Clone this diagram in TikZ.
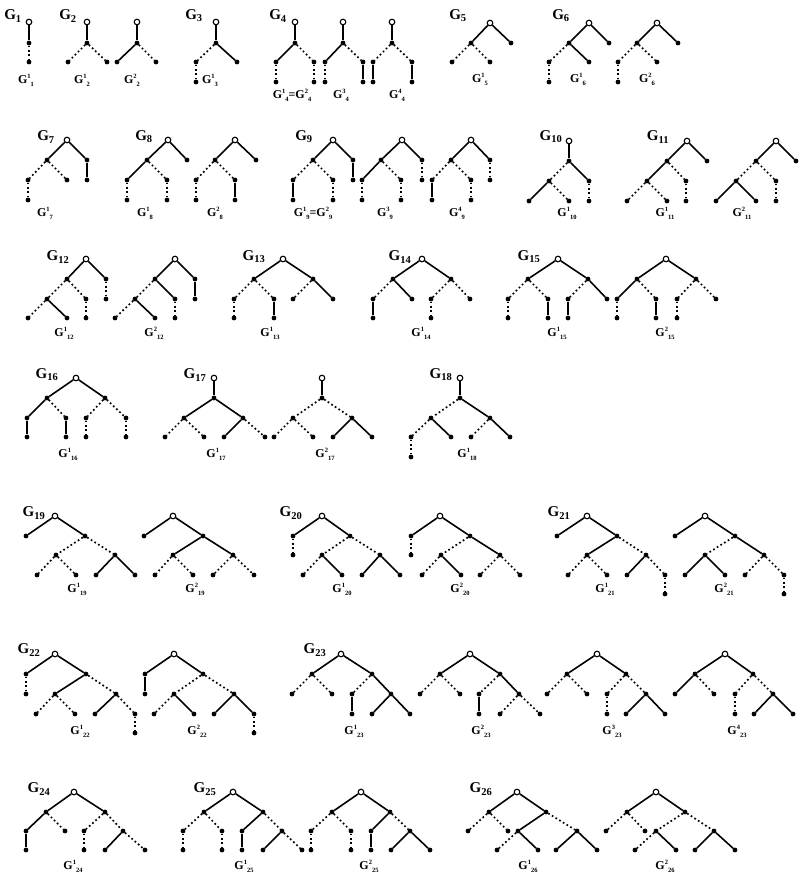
\documentclass[tikz,border=0pt]{standalone}
\usepackage{fontspec}
\setmainfont{Liberation Serif}
\tikzset{
 dotn/.style={circle,fill=black,inner sep=0pt,minimum size=4.8pt},
 rootn/.style={circle,draw=black,fill=white,line width=1.1pt,inner sep=0pt,minimum size=5.6pt},
 soledge/.style={line width=1.6pt},
 dotedge/.style={line width=1.7pt,dash pattern=on 1.7pt off 2.6pt},
 glab/.style={font=\fontsize{15}{15}\selectfont\bfseries,inner sep=0pt},
 plab/.style={font=\fontsize{12}{12}\selectfont\bfseries,inner sep=0pt},
}
\newcommand{\mkD}[3]{\node[dotn] (#1) at (#2,#3) {};}
\newcommand{\mkR}[3]{\node[rootn] (#1) at (#2,#3) {};}
\newcommand{\eS}[2]{\draw[soledge] (#1) -- (#2);}
\newcommand{\eD}[2]{\draw[dotedge] (#1) -- (#2);}
\newcommand{\Gm}[1]{G\textsubscript{#1}}
\newcommand{\smallnum}[1]{{\fontsize{6.5}{6.5}\selectfont\bfseries #1}}
\newcommand{\Gp}[2]{G\raisebox{5pt}{\smallnum{#1}}\raisebox{-3pt}{\smallnum{#2}}}
\begin{document}
\begin{tikzpicture}[x=1pt,y=-1pt]
\fill[white] (0,0) rectangle (800,878);
\useasboundingbox (0,0) rectangle (800,878);
% ================= Row 1
% G1
\node[glab] (L1) at (13,16) {\Gm{1}};
\mkR{n1r}{29}{22} \mkD{n1b}{29}{43} \mkD{n1c}{29}{62}
\eS{n1r}{n1b} \eD{n1b}{n1c}
\node[plab] (P1) at (26,80) {\Gp{1}{1}};
% G2
\node[glab] (L2) at (68,16) {\Gm{2}};
\mkR{n2ar}{87}{22} \mkD{n2ab}{87}{43} \mkD{n2ac}{68}{62} \mkD{n2ad}{107}{62}
\eS{n2ar}{n2ab} \eD{n2ab}{n2ac} \eD{n2ab}{n2ad}
\node[plab] (P2a) at (82,80) {\Gp{1}{2}};
\mkR{n2br}{137}{22} \mkD{n2bb}{137}{43} \mkD{n2bc}{117}{62} \mkD{n2bd}{156}{62}
\eS{n2br}{n2bb} \eS{n2bb}{n2bc} \eD{n2bb}{n2bd}
\node[plab] (P2b) at (132,80) {\Gp{2}{2}};
% G3
\node[glab] (L3) at (194,16) {\Gm{3}};
\mkR{n3r}{216}{22} \mkD{n3b}{216}{43} \mkD{n3c}{196}{62} \mkD{n3d}{237}{62} \mkD{n3e}{196}{82}
\eS{n3r}{n3b} \eD{n3b}{n3c} \eS{n3b}{n3d} \eD{n3c}{n3e}
\node[plab] (P3) at (210,80) {\Gp{1}{3}};
% G4
\node[glab] (L4) at (278,16) {\Gm{4}};
\mkR{n4ar}{295}{22} \mkD{n4ab}{295}{43} \mkD{n4ac}{276}{62} \mkD{n4ad}{314}{62} \mkD{n4ae}{276}{82} \mkD{n4af}{314}{82}
\eS{n4ar}{n4ab} \eS{n4ab}{n4ac} \eD{n4ab}{n4ad} \eD{n4ac}{n4ae} \eD{n4ad}{n4af}
\mkR{n4br}{343}{22} \mkD{n4bb}{343}{43} \mkD{n4bc}{325}{62} \mkD{n4bd}{363}{62} \mkD{n4be}{325}{82} \mkD{n4bf}{363}{82}
\eS{n4br}{n4bb} \eS{n4bb}{n4bc} \eD{n4bb}{n4bd} \eD{n4bc}{n4be} \eS{n4bd}{n4bf}
\mkR{n4cr}{392}{22} \mkD{n4cb}{392}{43} \mkD{n4cc}{373}{62} \mkD{n4cd}{412}{62} \mkD{n4ce}{373}{82} \mkD{n4cf}{412}{82}
\eS{n4cr}{n4cb} \eD{n4cb}{n4cc} \eD{n4cb}{n4cd} \eS{n4cc}{n4ce} \eS{n4cd}{n4cf}
\node[plab] (P4a) at (292,95) {\Gp{1}{4}=\Gp{2}{4}};
\node[plab] (P4b) at (341,95) {\Gp{3}{4}};
\node[plab] (P4c) at (397,95) {\Gp{4}{4}};
% G5
\node[glab] (L5) at (458,16) {\Gm{5}};
\mkR{n5r}{490}{23} \mkD{n5b}{471}{43} \mkD{n5c}{511}{43} \mkD{n5d}{452}{62} \mkD{n5e}{490}{62}
\eS{n5r}{n5b} \eS{n5r}{n5c} \eD{n5b}{n5d} \eD{n5b}{n5e}
\node[plab] (P5) at (480,79) {\Gp{1}{5}};
% G6
\node[glab] (L6) at (561,16) {\Gm{6}};
\mkR{n6ar}{589}{23} \mkD{n6ab}{569}{43} \mkD{n6ac}{609}{43} \mkD{n6ad}{549}{62} \mkD{n6ae}{589}{62} \mkD{n6af}{549}{82}
\eS{n6ar}{n6ab} \eS{n6ar}{n6ac} \eD{n6ab}{n6ad} \eS{n6ab}{n6ae} \eD{n6ad}{n6af}
\node[plab] (P6a) at (578,79) {\Gp{1}{6}};
\mkR{n6br}{657}{23} \mkD{n6bb}{637}{43} \mkD{n6bc}{678}{43} \mkD{n6bd}{618}{62} \mkD{n6be}{657}{62} \mkD{n6bf}{618}{82}
\eS{n6br}{n6bb} \eS{n6br}{n6bc} \eD{n6bb}{n6bd} \eD{n6bb}{n6be} \eD{n6bd}{n6bf}
\node[plab] (P6b) at (647,79) {\Gp{2}{6}};
% ================= Row 2
% G7
\node[glab] (L7) at (46,137) {\Gm{7}};
\mkR{n7r}{67}{140} \mkD{n7b}{47}{160} \mkD{n7c}{87}{160} \mkD{n7d}{28}{180} \mkD{n7e}{67}{180} \mkD{n7f}{87}{180} \mkD{n7g}{28}{200}
\eS{n7r}{n7b} \eS{n7r}{n7c} \eD{n7b}{n7d} \eD{n7b}{n7e} \eS{n7c}{n7f} \eD{n7d}{n7g}
\node[plab] (P7) at (45,213) {\Gp{1}{7}};
% G8
\node[glab] (L8) at (144,137) {\Gm{8}};
\mkR{n8ar}{168}{140} \mkD{n8ab}{147}{160} \mkD{n8ac}{187}{160} \mkD{n8ad}{127}{180} \mkD{n8ae}{167}{180} \mkD{n8af}{127}{200} \mkD{n8ag}{167}{200}
\eS{n8ar}{n8ab} \eS{n8ar}{n8ac} \eS{n8ab}{n8ad} \eD{n8ab}{n8ae} \eD{n8ad}{n8af} \eD{n8ae}{n8ag}
\node[plab] (P8a) at (145,213) {\Gp{1}{8}};
\mkR{n8br}{235}{140} \mkD{n8bb}{215}{160} \mkD{n8bc}{256}{160} \mkD{n8bd}{196}{180} \mkD{n8be}{235}{180} \mkD{n8bf}{196}{200} \mkD{n8bg}{235}{200}
\eS{n8br}{n8bb} \eS{n8br}{n8bc} \eD{n8bb}{n8bd} \eD{n8bb}{n8be} \eD{n8bd}{n8bf} \eS{n8be}{n8bg}
\node[plab] (P8b) at (215,213) {\Gp{2}{8}};
% G9
\node[glab] (L9) at (304,137) {\Gm{9}};
\mkR{n9ar}{333}{140} \mkD{n9ab}{313}{160} \mkD{n9ac}{353}{160} \mkD{n9ad}{293}{180} \mkD{n9ae}{333}{180} \mkD{n9af}{353}{180} \mkD{n9ag}{293}{200} \mkD{n9ah}{333}{200}
\eS{n9ar}{n9ab} \eS{n9ar}{n9ac} \eD{n9ab}{n9ad} \eD{n9ab}{n9ae} \eS{n9ac}{n9af} \eS{n9ad}{n9ag} \eD{n9ae}{n9ah}
\node[plab] (P9a) at (313,213) {\Gp{1}{9}=\Gp{2}{9}};
\mkR{n9br}{402}{140} \mkD{n9bb}{381}{160} \mkD{n9bc}{422}{160} \mkD{n9bd}{362}{180} \mkD{n9be}{401}{180} \mkD{n9bf}{422}{180} \mkD{n9bg}{362}{200} \mkD{n9bh}{401}{200}
\eS{n9br}{n9bb} \eS{n9br}{n9bc} \eS{n9bb}{n9bd} \eD{n9bb}{n9be} \eD{n9bc}{n9bf} \eD{n9bd}{n9bg} \eD{n9be}{n9bh}
\node[plab] (P9b) at (385,213) {\Gp{3}{9}};
\mkR{n9cr}{471}{140} \mkD{n9cb}{451}{160} \mkD{n9cc}{490}{160} \mkD{n9cd}{432}{180} \mkD{n9ce}{471}{180} \mkD{n9cf}{490}{180} \mkD{n9cg}{432}{200} \mkD{n9ch}{471}{200}
\eS{n9cr}{n9cb} \eS{n9cr}{n9cc} \eD{n9cb}{n9cd} \eD{n9cb}{n9ce} \eD{n9cc}{n9cf} \eS{n9cd}{n9cg} \eD{n9ce}{n9ch}
\node[plab] (P9c) at (457,213) {\Gp{4}{9}};
% G10
\node[glab] (L10) at (551,137) {\Gm{10}};
\mkR{n10r}{569}{141} \mkD{n10b}{569}{161} \mkD{n10c}{549}{181} \mkD{n10d}{589}{181} \mkD{n10e}{529}{201} \mkD{n10f}{569}{201} \mkD{n10g}{589}{201}
\eS{n10r}{n10b} \eD{n10b}{n10c} \eS{n10b}{n10d} \eS{n10c}{n10e} \eD{n10c}{n10f} \eD{n10d}{n10g}
\node[plab] (P10) at (567,213) {\Gp{1}{10}};
% G11
\node[glab] (L11) at (658,137) {\Gm{11}};
\mkR{n11ar}{687}{141} \mkD{n11ab}{667}{161} \mkD{n11ac}{707}{161} \mkD{n11ad}{647}{181} \mkD{n11ae}{686}{181} \mkD{n11af}{627}{201} \mkD{n11ag}{667}{201} \mkD{n11ah}{686}{201}
\eS{n11ar}{n11ab} \eS{n11ar}{n11ac} \eS{n11ab}{n11ad} \eD{n11ab}{n11ae} \eD{n11ad}{n11af} \eD{n11ad}{n11ag} \eD{n11ae}{n11ah}
\node[plab] (P11a) at (665,213) {\Gp{1}{11}};
\mkR{n11br}{776}{141} \mkD{n11bb}{756}{161} \mkD{n11bc}{796}{161} \mkD{n11bd}{736}{181} \mkD{n11be}{776}{181} \mkD{n11bf}{716}{201} \mkD{n11bg}{756}{201} \mkD{n11bh}{776}{201}
\eS{n11br}{n11bb} \eS{n11br}{n11bc} \eD{n11bb}{n11bd} \eD{n11bb}{n11be} \eS{n11bd}{n11bf} \eS{n11bd}{n11bg} \eD{n11be}{n11bh}
\node[plab] (P11b) at (742,213) {\Gp{2}{11}};
% ================= Row 3
% G12
\node[glab] (L12) at (58,257) {\Gm{12}};
\mkR{n12ar}{86}{259} \mkD{n12ab}{67}{279} \mkD{n12ac}{106}{279} \mkD{n12ad}{47}{299} \mkD{n12ae}{86}{299} \mkD{n12af}{106}{299} \mkD{n12ag}{28}{318} \mkD{n12ah}{67}{318} \mkD{n12ai}{86}{318}
\eS{n12ar}{n12ab} \eS{n12ar}{n12ac} \eD{n12ab}{n12ad} \eD{n12ab}{n12ae} \eD{n12ac}{n12af} \eD{n12ad}{n12ag} \eS{n12ad}{n12ah} \eD{n12ae}{n12ai}
\node[plab] (P12a) at (64,333) {\Gp{1}{12}};
\mkR{n12br}{175}{259} \mkD{n12bb}{155}{279} \mkD{n12bc}{195}{279} \mkD{n12bd}{135}{299} \mkD{n12be}{175}{299} \mkD{n12bf}{195}{299} \mkD{n12bg}{115}{318} \mkD{n12bh}{155}{318} \mkD{n12bi}{175}{318}
\eS{n12br}{n12bb} \eS{n12br}{n12bc} \eD{n12bb}{n12bd} \eS{n12bb}{n12be} \eS{n12bc}{n12bf} \eD{n12bd}{n12bg} \eS{n12bd}{n12bh} \eD{n12be}{n12bi}
\node[plab] (P12b) at (154,333) {\Gp{2}{12}};
% G13
\node[glab] (L13) at (254,257) {\Gm{13}};
\mkR{n13r}{283}{259} \mkD{n13b}{254}{279} \mkD{n13c}{313}{279} \mkD{n13d}{234}{299} \mkD{n13e}{274}{299} \mkD{n13f}{293}{299} \mkD{n13g}{333}{299} \mkD{n13h}{234}{318} \mkD{n13i}{274}{318}
\eS{n13r}{n13b} \eS{n13r}{n13c} \eD{n13b}{n13d} \eD{n13b}{n13e} \eD{n13c}{n13f} \eS{n13c}{n13g} \eD{n13d}{n13h} \eS{n13e}{n13i}
\node[plab] (P13) at (270,333) {\Gp{1}{13}};
% G14
\node[glab] (L14) at (400,257) {\Gm{14}};
\mkR{n14r}{422}{259} \mkD{n14b}{393}{279} \mkD{n14c}{451}{279} \mkD{n14d}{373}{299} \mkD{n14e}{412}{299} \mkD{n14f}{431}{299} \mkD{n14g}{470}{299} \mkD{n14h}{373}{318} \mkD{n14i}{431}{318}
\eS{n14r}{n14b} \eS{n14r}{n14c} \eD{n14b}{n14d} \eS{n14b}{n14e} \eD{n14c}{n14f} \eD{n14c}{n14g} \eS{n14d}{n14h} \eD{n14f}{n14i}
\node[plab] (P14) at (421,333) {\Gp{1}{14}};
% G15
\node[glab] (L15) at (529,257) {\Gm{15}};
\mkR{n15ar}{558}{259} \mkD{n15ab}{528}{279} \mkD{n15ac}{588}{279} \mkD{n15ad}{508}{299} \mkD{n15ae}{548}{299} \mkD{n15af}{568}{299} \mkD{n15ag}{607}{299} \mkD{n15ah}{508}{318} \mkD{n15ai}{548}{318} \mkD{n15aj}{568}{318}
\eS{n15ar}{n15ab} \eS{n15ar}{n15ac} \eD{n15ab}{n15ad} \eD{n15ab}{n15ae} \eD{n15ac}{n15af} \eS{n15ac}{n15ag} \eD{n15ad}{n15ah} \eS{n15ae}{n15ai} \eS{n15af}{n15aj}
\node[plab] (P15a) at (557,333) {\Gp{1}{15}};
\mkR{n15br}{666}{259} \mkD{n15bb}{637}{279} \mkD{n15bc}{696}{279} \mkD{n15bd}{617}{299} \mkD{n15be}{656}{299} \mkD{n15bf}{677}{299} \mkD{n15bg}{716}{299} \mkD{n15bh}{617}{318} \mkD{n15bi}{656}{318} \mkD{n15bj}{677}{318}
\eS{n15br}{n15bb} \eS{n15br}{n15bc} \eS{n15bb}{n15bd} \eD{n15bb}{n15be} \eD{n15bc}{n15bf} \eD{n15bc}{n15bg} \eD{n15bd}{n15bh} \eS{n15be}{n15bi} \eD{n15bf}{n15bj}
\node[plab] (P15b) at (665,333) {\Gp{2}{15}};
% ================= Row 4
% G16
\node[glab] (L16) at (47,375) {\Gm{16}};
\mkR{n16r}{76}{378} \mkD{n16b}{47}{398} \mkD{n16c}{105}{398} \mkD{n16d}{27}{418} \mkD{n16e}{66}{418} \mkD{n16f}{86}{418} \mkD{n16g}{126}{418} \mkD{n16h}{27}{437} \mkD{n16i}{66}{437} \mkD{n16j}{86}{437} \mkD{n16k}{126}{437}
\eS{n16r}{n16b} \eS{n16r}{n16c} \eS{n16b}{n16d} \eD{n16b}{n16e} \eD{n16c}{n16f} \eD{n16c}{n16g} \eS{n16d}{n16h} \eS{n16e}{n16i} \eD{n16f}{n16j} \eD{n16g}{n16k}
\node[plab] (P16) at (68,454) {\Gp{1}{16}};
% G17
\node[glab] (L17) at (195,375) {\Gm{17}};
\mkR{n17ar}{214}{378} \mkD{n17ab}{214}{398} \mkD{n17ac}{184}{418} \mkD{n17ad}{243}{418} \mkD{n17ae}{165}{437} \mkD{n17af}{204}{437} \mkD{n17ag}{224}{437} \mkD{n17ah}{265}{437}
\eS{n17ar}{n17ab} \eS{n17ab}{n17ac} \eS{n17ab}{n17ad} \eD{n17ac}{n17ae} \eD{n17ac}{n17af} \eS{n17ad}{n17ag} \eD{n17ad}{n17ah}
\node[plab] (P17a) at (216,454) {\Gp{1}{17}};
\mkR{n17br}{322}{378} \mkD{n17bb}{322}{398} \mkD{n17bc}{293}{418} \mkD{n17bd}{352}{418} \mkD{n17be}{274}{437} \mkD{n17bf}{313}{437} \mkD{n17bg}{333}{437} \mkD{n17bh}{372}{437}
\eS{n17br}{n17bb} \eD{n17bb}{n17bc} \eD{n17bb}{n17bd} \eD{n17bc}{n17be} \eD{n17bc}{n17bf} \eS{n17bd}{n17bg} \eS{n17bd}{n17bh}
\node[plab] (P17b) at (325,454) {\Gp{2}{17}};
% G18
\node[glab] (L18) at (441,375) {\Gm{18}};
\mkR{n18r}{460}{378} \mkD{n18b}{460}{398} \mkD{n18c}{431}{418} \mkD{n18d}{490}{418} \mkD{n18e}{411}{437} \mkD{n18f}{451}{437} \mkD{n18g}{471}{437} \mkD{n18h}{510}{437} \mkD{n18i}{411}{457}
\eS{n18r}{n18b} \eD{n18b}{n18c} \eS{n18b}{n18d} \eD{n18c}{n18e} \eS{n18c}{n18f} \eD{n18d}{n18g} \eS{n18d}{n18h} \eD{n18e}{n18i}
\node[plab] (P18) at (467,454) {\Gp{1}{18}};
% ================= Row 5
% G19
\node[glab] (L19) at (34,513) {\Gm{19}};
\mkR{n19ar}{55}{516} \mkD{n19ab}{26}{536} \mkD{n19ac}{85}{536} \mkD{n19ad}{56}{555} \mkD{n19ae}{115}{555} \mkD{n19af}{37}{575} \mkD{n19ag}{76}{575} \mkD{n19ah}{96}{575} \mkD{n19ai}{135}{575}
\eS{n19ar}{n19ab} \eS{n19ar}{n19ac} \eD{n19ac}{n19ad} \eD{n19ac}{n19ae} \eD{n19ad}{n19af} \eD{n19ad}{n19ag} \eS{n19ae}{n19ah} \eS{n19ae}{n19ai}
\node[plab] (P19a) at (77,589) {\Gp{1}{19}};
\mkR{n19br}{173}{516} \mkD{n19bb}{144}{536} \mkD{n19bc}{203}{536} \mkD{n19bd}{173}{555} \mkD{n19be}{233}{555} \mkD{n19bf}{155}{575} \mkD{n19bg}{193}{575} \mkD{n19bh}{213}{575} \mkD{n19bi}{254}{575}
\eS{n19br}{n19bb} \eS{n19br}{n19bc} \eS{n19bc}{n19bd} \eS{n19bc}{n19be} \eD{n19bd}{n19bf} \eD{n19bd}{n19bg} \eD{n19be}{n19bh} \eD{n19be}{n19bi}
\node[plab] (P19b) at (195,589) {\Gp{2}{19}};
% G20
\node[glab] (L20) at (291,513) {\Gm{20}};
\mkR{n20ar}{322}{516} \mkD{n20ab}{293}{536} \mkD{n20ac}{350}{536} \mkD{n20ad}{293}{555} \mkD{n20ae}{322}{555} \mkD{n20af}{380}{555} \mkD{n20ag}{303}{575} \mkD{n20ah}{342}{575} \mkD{n20ai}{362}{575} \mkD{n20aj}{400}{575}
\eS{n20ar}{n20ab} \eS{n20ar}{n20ac} \eD{n20ab}{n20ad} \eD{n20ac}{n20ae} \eD{n20ac}{n20af} \eD{n20ae}{n20ag} \eS{n20ae}{n20ah} \eS{n20af}{n20ai} \eS{n20af}{n20aj}
\node[plab] (P20a) at (342,589) {\Gp{1}{20}};
\mkR{n20br}{440}{516} \mkD{n20bb}{411}{536} \mkD{n20bc}{470}{536} \mkD{n20bd}{411}{555} \mkD{n20be}{441}{555} \mkD{n20bf}{500}{555} \mkD{n20bg}{422}{575} \mkD{n20bh}{461}{575} \mkD{n20bi}{480}{575} \mkD{n20bj}{520}{575}
\eS{n20br}{n20bb} \eS{n20br}{n20bc} \eD{n20bb}{n20bd} \eD{n20bc}{n20be} \eS{n20bc}{n20bf} \eD{n20be}{n20bg} \eS{n20be}{n20bh} \eD{n20bf}{n20bi} \eD{n20bf}{n20bj}
\node[plab] (P20b) at (460,589) {\Gp{2}{20}};
% G21
\node[glab] (L21) at (559,513) {\Gm{21}};
\mkR{n21ar}{587}{516} \mkD{n21ab}{557}{536} \mkD{n21ac}{617}{536} \mkD{n21ad}{587}{555} \mkD{n21ae}{646}{555} \mkD{n21af}{568}{575} \mkD{n21ag}{607}{575} \mkD{n21ah}{627}{575} \mkD{n21ai}{665}{575} \mkD{n21aj}{665}{594}
\eS{n21ar}{n21ab} \eS{n21ar}{n21ac} \eS{n21ac}{n21ad} \eD{n21ac}{n21ae} \eD{n21ad}{n21af} \eD{n21ad}{n21ag} \eS{n21ae}{n21ah} \eD{n21ae}{n21ai} \eD{n21ai}{n21aj}
\node[plab] (P21a) at (605,589) {\Gp{1}{21}};
\mkR{n21br}{705}{516} \mkD{n21bb}{675}{536} \mkD{n21bc}{735}{536} \mkD{n21bd}{705}{555} \mkD{n21be}{764}{555} \mkD{n21bf}{685}{575} \mkD{n21bg}{725}{575} \mkD{n21bh}{745}{575} \mkD{n21bi}{784}{575} \mkD{n21bj}{784}{594}
\eS{n21br}{n21bb} \eS{n21br}{n21bc} \eD{n21bc}{n21bd} \eS{n21bc}{n21be} \eS{n21bd}{n21bf} \eS{n21bd}{n21bg} \eD{n21be}{n21bh} \eD{n21be}{n21bi} \eD{n21bi}{n21bj}
\node[plab] (P21b) at (724,589) {\Gp{2}{21}};
% ================= Row 6
% G22
\node[glab] (L22) at (29,650) {\Gm{22}};
\mkR{n22ar}{55}{654} \mkD{n22ab}{26}{674} \mkD{n22ac}{86}{674} \mkD{n22ad}{26}{694} \mkD{n22ae}{55}{694} \mkD{n22af}{116}{694} \mkD{n22ag}{36}{714} \mkD{n22ah}{75}{714} \mkD{n22ai}{95}{714} \mkD{n22aj}{135}{714} \mkD{n22ak}{135}{733}
\eS{n22ar}{n22ab} \eS{n22ar}{n22ac} \eD{n22ab}{n22ad} \eS{n22ac}{n22ae} \eD{n22ac}{n22af} \eD{n22ae}{n22ag} \eD{n22ae}{n22ah} \eS{n22af}{n22ai} \eD{n22af}{n22aj} \eD{n22aj}{n22ak}
\node[plab] (P22a) at (80,731) {\Gp{1}{22}};
\mkR{n22br}{174}{654} \mkD{n22bb}{145}{674} \mkD{n22bc}{203}{674} \mkD{n22bd}{145}{694} \mkD{n22be}{174}{694} \mkD{n22bf}{234}{694} \mkD{n22bg}{154}{714} \mkD{n22bh}{194}{714} \mkD{n22bi}{214}{714} \mkD{n22bj}{254}{714} \mkD{n22bk}{254}{733}
\eS{n22br}{n22bb} \eS{n22br}{n22bc} \eS{n22bb}{n22bd} \eD{n22bc}{n22be} \eD{n22bc}{n22bf} \eD{n22be}{n22bg} \eS{n22be}{n22bh} \eS{n22bf}{n22bi} \eS{n22bf}{n22bj} \eD{n22bj}{n22bk}
\node[plab] (P22b) at (197,731) {\Gp{2}{22}};
% G23
\node[glab] (L23) at (315,650) {\Gm{23}};
\mkR{n23ar}{341}{654} \mkD{n23ab}{312}{674} \mkD{n23ac}{372}{674} \mkD{n23ad}{292}{694} \mkD{n23ae}{332}{694} \mkD{n23af}{352}{694} \mkD{n23ag}{391}{694} \mkD{n23ah}{352}{714} \mkD{n23ai}{372}{714} \mkD{n23aj}{410}{714}
\eS{n23ar}{n23ab} \eS{n23ar}{n23ac} \eD{n23ab}{n23ad} \eD{n23ab}{n23ae} \eD{n23ac}{n23af} \eS{n23ac}{n23ag} \eS{n23af}{n23ah} \eS{n23ag}{n23ai} \eS{n23ag}{n23aj}
\node[plab] (P23a) at (354,731) {\Gp{1}{23}};
\mkR{n23br}{470}{654} \mkD{n23bb}{440}{674} \mkD{n23bc}{500}{674} \mkD{n23bd}{420}{694} \mkD{n23be}{460}{694} \mkD{n23bf}{479}{694} \mkD{n23bg}{519}{694} \mkD{n23bh}{479}{714} \mkD{n23bi}{500}{714} \mkD{n23bj}{540}{714}
\eS{n23br}{n23bb} \eS{n23br}{n23bc} \eD{n23bb}{n23bd} \eD{n23bb}{n23be} \eD{n23bc}{n23bf} \eS{n23bc}{n23bg} \eS{n23bf}{n23bh} \eD{n23bg}{n23bi} \eD{n23bg}{n23bj}
\node[plab] (P23b) at (481,731) {\Gp{2}{23}};
\mkR{n23cr}{597}{654} \mkD{n23cb}{567}{674} \mkD{n23cc}{626}{674} \mkD{n23cd}{547}{694} \mkD{n23ce}{587}{694} \mkD{n23cf}{607}{694} \mkD{n23cg}{646}{694} \mkD{n23ch}{607}{714} \mkD{n23ci}{626}{714} \mkD{n23cj}{665}{714}
\eS{n23cr}{n23cb} \eS{n23cr}{n23cc} \eD{n23cb}{n23cd} \eD{n23cb}{n23ce} \eD{n23cc}{n23cf} \eD{n23cc}{n23cg} \eD{n23cf}{n23ch} \eS{n23cg}{n23ci} \eS{n23cg}{n23cj}
\node[plab] (P23c) at (612,731) {\Gp{3}{23}};
\mkR{n23dr}{725}{654} \mkD{n23db}{695}{674} \mkD{n23dc}{753}{674} \mkD{n23dd}{675}{694} \mkD{n23de}{714}{694} \mkD{n23df}{735}{694} \mkD{n23dg}{773}{694} \mkD{n23dh}{735}{714} \mkD{n23di}{754}{714} \mkD{n23dj}{793}{714}
\eS{n23dr}{n23db} \eS{n23dr}{n23dc} \eS{n23db}{n23dd} \eD{n23db}{n23de} \eD{n23dc}{n23df} \eD{n23dc}{n23dg} \eD{n23df}{n23dh} \eS{n23dg}{n23di} \eS{n23dg}{n23dj}
\node[plab] (P23d) at (737,731) {\Gp{4}{23}};
% ================= Row 7
% G24
\node[glab] (L24) at (39,789) {\Gm{24}};
\mkR{n24r}{74}{792} \mkD{n24b}{46}{812} \mkD{n24c}{105}{812} \mkD{n24d}{26}{831} \mkD{n24e}{65}{831} \mkD{n24f}{84}{831} \mkD{n24g}{123}{831} \mkD{n24h}{26}{850} \mkD{n24i}{84}{850} \mkD{n24j}{105}{850} \mkD{n24k}{145}{850}
\eS{n24r}{n24b} \eS{n24r}{n24c} \eS{n24b}{n24d} \eD{n24b}{n24e} \eD{n24c}{n24f} \eD{n24c}{n24g} \eS{n24d}{n24h} \eD{n24f}{n24i} \eS{n24g}{n24j} \eD{n24g}{n24k}
\node[plab] (P24) at (73,866) {\Gp{1}{24}};
% G25
\node[glab] (L25) at (205,789) {\Gm{25}};
\mkR{n25ar}{233}{792} \mkD{n25ab}{204}{812} \mkD{n25ac}{263}{812} \mkD{n25ad}{183}{831} \mkD{n25ae}{222}{831} \mkD{n25af}{242}{831} \mkD{n25ag}{282}{831} \mkD{n25ah}{183}{850} \mkD{n25ai}{222}{850} \mkD{n25aj}{242}{850} \mkD{n25ak}{263}{850} \mkD{n25al}{302}{850}
\eS{n25ar}{n25ab} \eS{n25ar}{n25ac} \eD{n25ab}{n25ad} \eD{n25ab}{n25ae} \eS{n25ac}{n25af} \eD{n25ac}{n25ag} \eD{n25ad}{n25ah} \eD{n25ae}{n25ai} \eS{n25af}{n25aj} \eS{n25ag}{n25ak} \eD{n25ag}{n25al}
\node[plab] (P25a) at (244,866) {\Gp{1}{25}};
\mkR{n25br}{361}{792} \mkD{n25bb}{332}{812} \mkD{n25bc}{390}{812} \mkD{n25bd}{311}{831} \mkD{n25be}{351}{831} \mkD{n25bf}{371}{831} \mkD{n25bg}{410}{831} \mkD{n25bh}{311}{850} \mkD{n25bi}{351}{850} \mkD{n25bj}{371}{850} \mkD{n25bk}{391}{850} \mkD{n25bl}{430}{850}
\eS{n25br}{n25bb} \eS{n25br}{n25bc} \eD{n25bb}{n25bd} \eD{n25bb}{n25be} \eS{n25bc}{n25bf} \eD{n25bc}{n25bg} \eD{n25bd}{n25bh} \eD{n25be}{n25bi} \eS{n25bf}{n25bj} \eS{n25bg}{n25bk} \eS{n25bg}{n25bl}
\node[plab] (P25b) at (369,866) {\Gp{2}{25}};
% G26
\node[glab] (L26) at (481,789) {\Gm{26}};
\mkR{n26ar}{517}{792} \mkD{n26ab}{489}{812} \mkD{n26ac}{546}{812} \mkD{n26ad}{468}{831} \mkD{n26ae}{508}{831} \mkD{n26af}{518}{831} \mkD{n26ag}{577}{831} \mkD{n26ah}{497}{850} \mkD{n26ai}{538}{850} \mkD{n26aj}{556}{850} \mkD{n26ak}{597}{850}
\eS{n26ar}{n26ab} \eS{n26ar}{n26ac} \eD{n26ab}{n26ad} \eD{n26ab}{n26ae} \eS{n26ac}{n26af} \eD{n26ac}{n26ag} \eD{n26af}{n26ah} \eS{n26af}{n26ai} \eS{n26ag}{n26aj} \eS{n26ag}{n26ak}
\node[plab] (P26a) at (528,866) {\Gp{1}{26}};
\mkR{n26br}{656}{792} \mkD{n26bb}{627}{812} \mkD{n26bc}{685}{812} \mkD{n26bd}{606}{831} \mkD{n26be}{645}{831} \mkD{n26bf}{656}{831} \mkD{n26bg}{714}{831} \mkD{n26bh}{635}{850} \mkD{n26bi}{676}{850} \mkD{n26bj}{695}{850} \mkD{n26bk}{735}{850}
\eS{n26br}{n26bb} \eS{n26br}{n26bc} \eD{n26bb}{n26bd} \eD{n26bb}{n26be} \eD{n26bc}{n26bf} \eD{n26bc}{n26bg} \eD{n26bf}{n26bh} \eS{n26bf}{n26bi} \eS{n26bg}{n26bj} \eS{n26bg}{n26bk}
\node[plab] (P26b) at (665,866) {\Gp{2}{26}};
\end{tikzpicture}
\end{document}
